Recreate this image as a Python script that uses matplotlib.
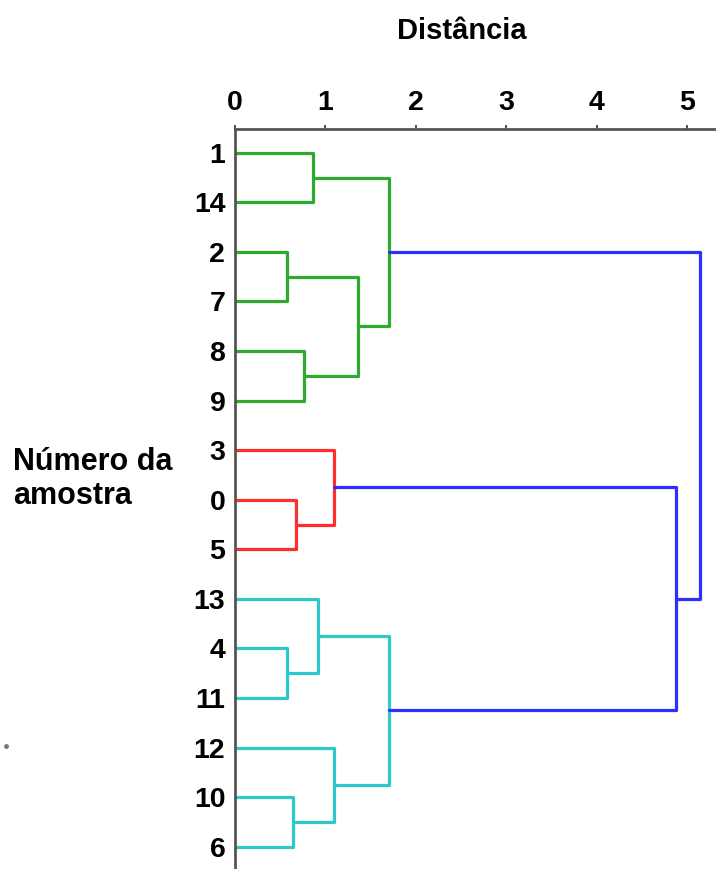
import matplotlib
matplotlib.use("Agg")
import matplotlib.pyplot as plt
from matplotlib.lines import Line2D

plt.rcParams['font.family'] = ['Liberation Sans', 'DejaVu Sans']
plt.rcParams['font.weight'] = 'bold'

# Leaf order, top to bottom (sample numbers)
leaf_order = [1, 14, 2, 7, 8, 9, 3, 0, 5, 13, 4, 11, 12, 10, 6]
n_samples = 15

# Linkage: (left child, right child, distance, cluster colour key); new nodes get ids 15, 16, ...
merges = [
    (2, 7, 0.57, 'g'),
    (4, 11, 0.58, 'c'),
    (10, 6, 0.64, 'c'),
    (0, 5, 0.68, 'r'),
    (8, 9, 0.76, 'g'),
    (1, 14, 0.86, 'g'),
    (13, 16, 0.92, 'c'),
    (3, 18, 1.09, 'r'),
    (12, 17, 1.09, 'c'),
    (15, 19, 1.36, 'g'),
    (20, 24, 1.70, 'g'),
    (21, 23, 1.70, 'c'),
    (22, 26, 4.88, 'b'),
    (25, 27, 5.14, 'b'),
]

x_ticks = [0, 1, 2, 3, 4, 5]

palette = {'g': '#2faa2f', 'r': '#ff2e2e', 'c': '#2ec8c8', 'b': '#2e2eff'}

fig = plt.figure(figsize=(7.16, 8.69), dpi=100)
ax = fig.add_axes([235 / 716, 0, 481 / 716, 740 / 869])

# node -> (y position, height)
pos = {leaf: (i, 0.0) for i, leaf in enumerate(leaf_order)}
for k, (a, b, h, key) in enumerate(merges):
    ya, ha = pos[a]
    yb, hb = pos[b]
    ax.plot([ha, h, h, hb], [ya, ya, yb, yb], color=palette[key],
            lw=2.3, solid_joinstyle='round', solid_capstyle='round', zorder=2)
    pos[n_samples + k] = ((ya + yb) / 2, h)

ax.set_xlim(0, 5.32)
ax.set_ylim(14.45, -0.48)

ax.xaxis.tick_top()
ax.set_xticks(x_ticks)
ax.set_xticklabels([str(t) for t in x_ticks], fontsize=20.5, fontweight='bold')
ax.tick_params(axis='x', direction='out', length=3, width=1.5, color='#555555', pad=6)

ax.set_yticks(range(len(leaf_order)))
ax.set_yticklabels([str(s) for s in leaf_order], fontsize=20.5, fontweight='bold')
ax.tick_params(axis='y', length=0, pad=7)

for side in ('right', 'bottom'):
    ax.spines[side].set_visible(False)
for side in ('left', 'top'):
    ax.spines[side].set_color('#555555')
    ax.spines[side].set_linewidth(2)
    ax.spines[side].set_zorder(3)

fig.text(462 / 716, 1 - 31 / 869, 'Distância', ha='center', va='center',
         fontsize=21, fontweight='bold')
fig.text(13 / 716, 1 - 479 / 869, 'Número da\namostra', ha='left', va='center',
         fontsize=22, fontweight='bold', linespacing=1.15)

fig.add_artist(Line2D([6 / 716], [1 - 746 / 869], marker='o', markersize=2.5,
                      color='#777777', transform=fig.transFigure))

fig.savefig('out.png', dpi=100)
